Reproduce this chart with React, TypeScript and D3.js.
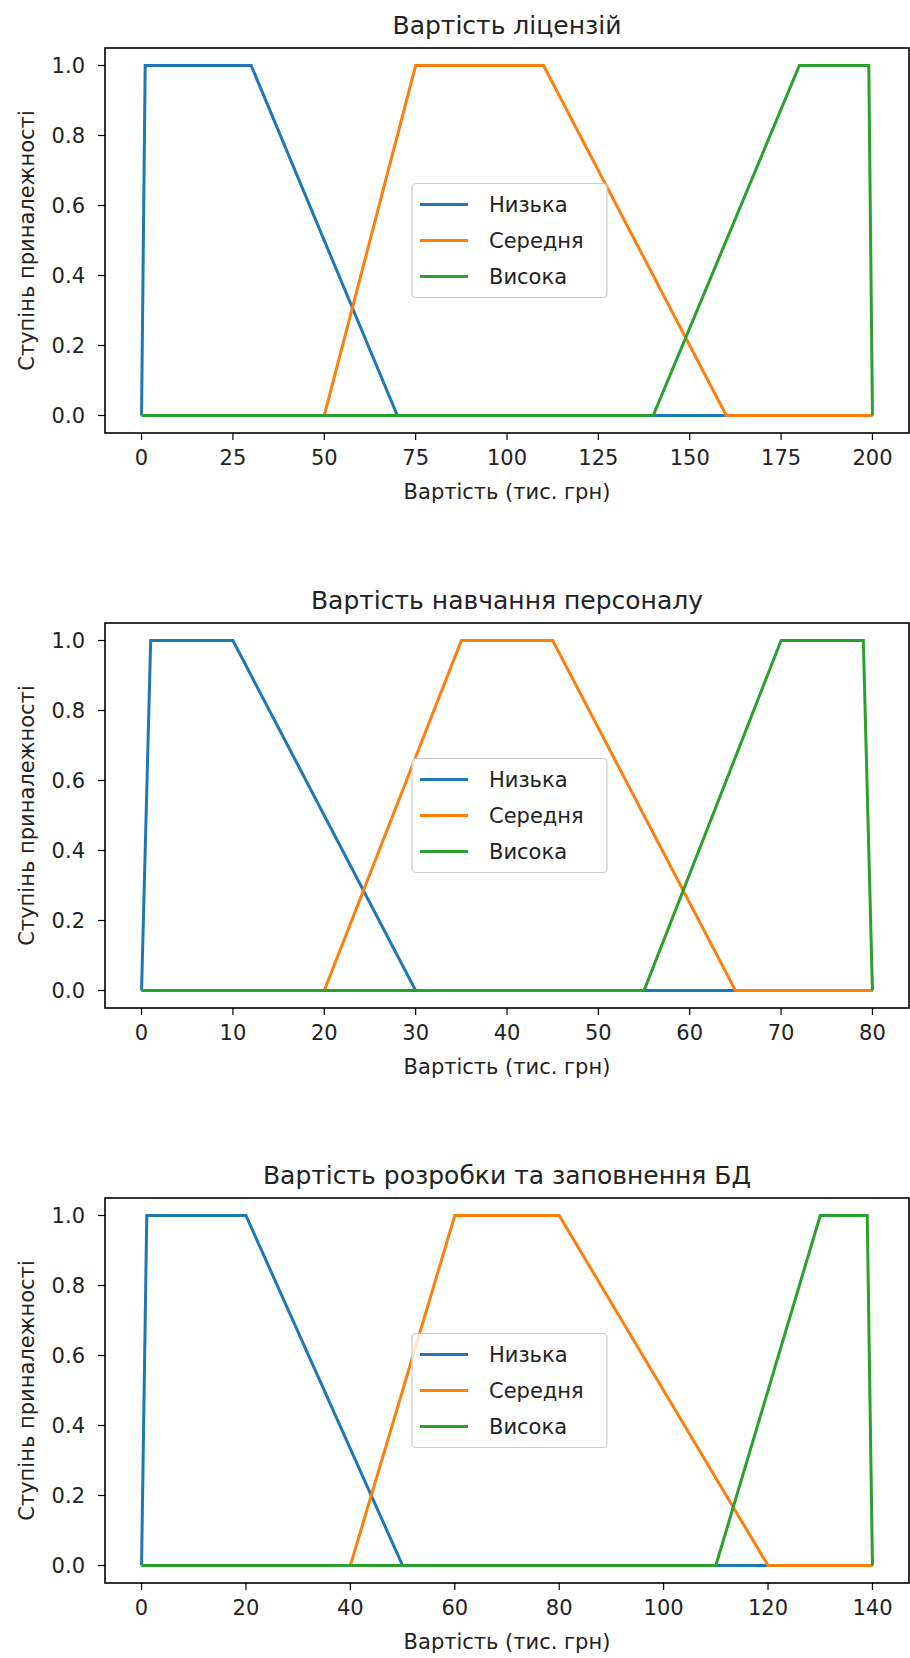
import React, { useEffect, useRef } from 'react';
import * as d3 from 'd3';

const seriesNames = ['Низька', 'Середня', 'Висока'];
const seriesColors = ['#1f77b4', '#ff7f0e', '#2ca02c'];
const yTicks = [0, 0.2, 0.4, 0.6, 0.8, 1.0];
const xLabel = 'Вартість (тис. грн)';
const yLabel = 'Ступінь приналежності';

// Вартість ліцензій
const licenseTitle = 'Вартість ліцензій';
const licenseTicks = [0, 25, 50, 75, 100, 125, 150, 175, 200];
const licenseLow = [[0, 0], [1, 1], [30, 1], [70, 0], [200, 0]];
const licenseMid = [[0, 0], [50, 0], [75, 1], [110, 1], [160, 0], [200, 0]];
const licenseHigh = [[0, 0], [140, 0], [180, 1], [199, 1], [200, 0]];

// Вартість навчання персоналу
const trainingTitle = 'Вартість навчання персоналу';
const trainingTicks = [0, 10, 20, 30, 40, 50, 60, 70, 80];
const trainingLow = [[0, 0], [1, 1], [10, 1], [30, 0], [80, 0]];
const trainingMid = [[0, 0], [20, 0], [35, 1], [45, 1], [65, 0], [80, 0]];
const trainingHigh = [[0, 0], [55, 0], [70, 1], [79, 1], [80, 0]];

// Вартість розробки та заповнення БД
const dbTitle = 'Вартість розробки та заповнення БД';
const dbTicks = [0, 20, 40, 60, 80, 100, 120, 140];
const dbLow = [[0, 0], [1, 1], [20, 1], [50, 0], [140, 0]];
const dbMid = [[0, 0], [40, 0], [60, 1], [80, 1], [120, 0], [140, 0]];
const dbHigh = [[0, 0], [110, 0], [130, 1], [139, 1], [140, 0]];

const panels = [
  { title: licenseTitle, ticks: licenseTicks, series: [licenseLow, licenseMid, licenseHigh] },
  { title: trainingTitle, ticks: trainingTicks, series: [trainingLow, trainingMid, trainingHigh] },
  { title: dbTitle, ticks: dbTicks, series: [dbLow, dbMid, dbHigh] },
];

const WIDTH = 910;
const HEIGHT = 1658;
const FONT = 'DejaVu Sans, sans-serif';

export default function App() {
  const ref = useRef<SVGSVGElement | null>(null);

  useEffect(() => {
    if (!ref.current) return;
    const svg = d3.select(ref.current);
    svg.selectAll('*').remove();

    const left = 105;
    const right = 909;
    const plotH = 385;
    const tops = [48, 623, 1198];

    panels.forEach((p, i) => {
      const top = tops[i];
      const bottom = top + plotH;
      const xMax = d3.max(p.ticks) as number;
      const pad = xMax * 0.05;
      const x = d3.scaleLinear().domain([-pad, xMax + pad]).range([left, right]);
      const y = d3.scaleLinear().domain([-0.05, 1.05]).range([bottom, top]);

      const g = svg.append('g');

      // lines
      const line = d3.line<number[]>().x(d => x(d[0])).y(d => y(d[1]));
      p.series.forEach((s, k) => {
        g.append('path')
          .attr('d', line(s as number[][]))
          .attr('fill', 'none')
          .attr('stroke', seriesColors[k])
          .attr('stroke-width', 3)
          .attr('stroke-linejoin', 'miter');
      });

      // spines
      g.append('rect')
        .attr('x', left).attr('y', top)
        .attr('width', right - left).attr('height', plotH)
        .attr('fill', 'none').attr('stroke', '#000').attr('stroke-width', 1.6);

      // x ticks
      p.ticks.forEach(t => {
        g.append('line')
          .attr('x1', x(t)).attr('x2', x(t))
          .attr('y1', bottom).attr('y2', bottom + 7)
          .attr('stroke', '#000').attr('stroke-width', 1.2);
        g.append('text')
          .attr('x', x(t)).attr('y', bottom + 32)
          .attr('text-anchor', 'middle')
          .style('font-family', FONT).style('font-size', '21px').attr('fill', '#222')
          .text(String(t));
      });

      // y ticks
      yTicks.forEach(t => {
        g.append('line')
          .attr('x1', left - 7).attr('x2', left)
          .attr('y1', y(t)).attr('y2', y(t))
          .attr('stroke', '#000').attr('stroke-width', 1.2);
        g.append('text')
          .attr('x', left - 20).attr('y', y(t))
          .attr('dy', '0.36em')
          .attr('text-anchor', 'end')
          .style('font-family', FONT).style('font-size', '21px').attr('fill', '#222')
          .text(t.toFixed(1));
      });

      // title
      g.append('text')
        .attr('x', (left + right) / 2).attr('y', top - 14)
        .attr('text-anchor', 'middle')
        .style('font-family', FONT).style('font-size', '25px').attr('fill', '#222')
        .text(p.title);

      // axis labels
      g.append('text')
        .attr('x', (left + right) / 2).attr('y', bottom + 66)
        .attr('text-anchor', 'middle')
        .style('font-family', FONT).style('font-size', '21px').attr('fill', '#222')
        .text(xLabel);
      const cy = (top + bottom) / 2;
      g.append('text')
        .attr('transform', `translate(26,${cy}) rotate(-90)`)
        .attr('dy', '0.36em')
        .attr('text-anchor', 'middle')
        .style('font-family', FONT).style('font-size', '21px').attr('fill', '#222')
        .text(yLabel);

      // legend
      const cx = (left + right) / 2;
      const lx = cx - 95;
      const ly = cy - 57;
      const lg = g.append('g');
      lg.append('rect')
        .attr('x', lx).attr('y', ly).attr('width', 195).attr('height', 114)
        .attr('rx', 4)
        .attr('fill', 'rgba(255,255,255,0.8)').attr('stroke', '#cccccc').attr('stroke-width', 1.2);
      seriesNames.forEach((name, k) => {
        const ry = cy - 36 + k * 36;
        lg.append('line')
          .attr('x1', lx + 8).attr('x2', lx + 56)
          .attr('y1', ry).attr('y2', ry)
          .attr('stroke', seriesColors[k]).attr('stroke-width', 3);
        lg.append('text')
          .attr('x', lx + 77).attr('y', ry)
          .attr('dy', '0.36em')
          .style('font-family', FONT).style('font-size', '21px').attr('fill', '#222')
          .text(name);
      });
    });
  }, []);

  return (
    <svg
      ref={ref}
      width={WIDTH}
      height={HEIGHT}
      style={{ position: 'absolute', left: 0, top: 0, background: '#fff' }}
    />
  );
}
